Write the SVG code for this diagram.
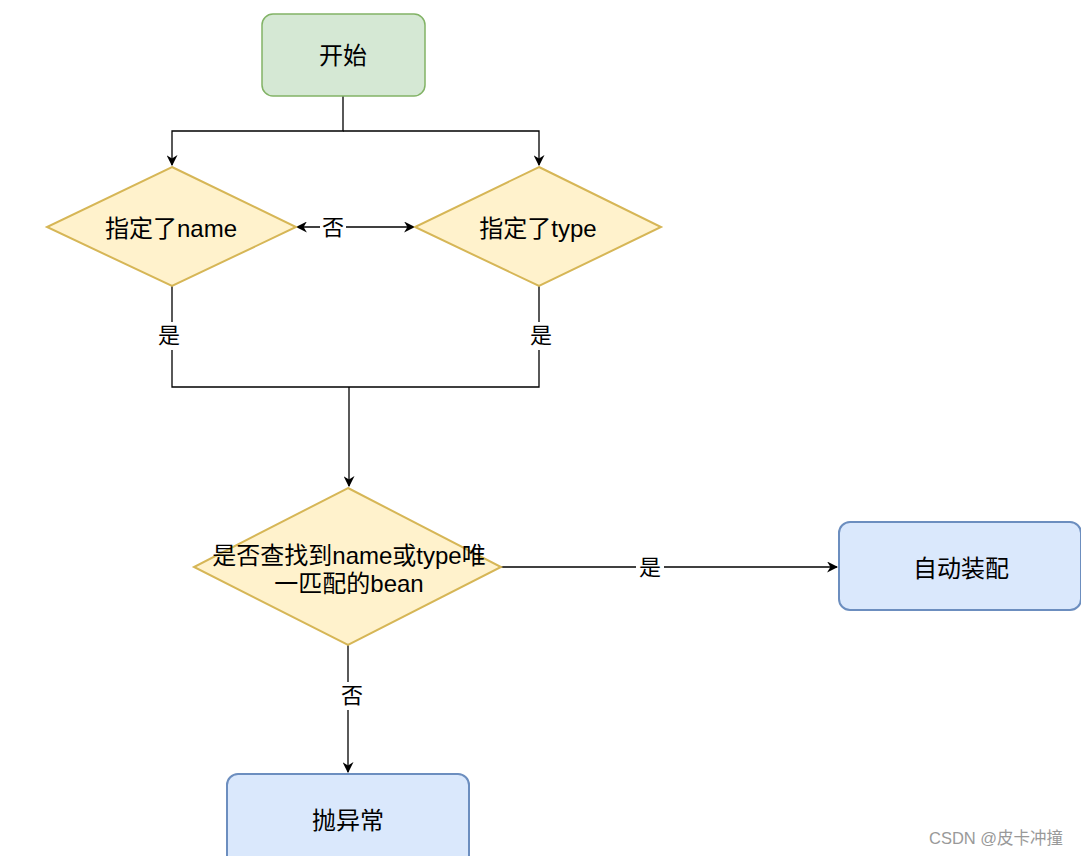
<svg xmlns="http://www.w3.org/2000/svg" width="1081" height="856" viewBox="0 0 1081 856">
<defs>
<marker id="arr" viewBox="0 0 10 10" refX="9" refY="5" markerWidth="11" markerHeight="11" markerUnits="userSpaceOnUse" orient="auto-start-reverse">
<path d="M0,0 L10,5 L0,10 L3,5 Z" fill="#000"/>
</marker>
<style>
.t{font-family:"Liberation Sans","Noto Sans CJK SC",sans-serif;font-size:24px;fill:#000;text-anchor:middle;dominant-baseline:central}
.l{font-family:"Liberation Sans","Noto Sans CJK SC",sans-serif;font-size:22px;fill:#000;text-anchor:middle;dominant-baseline:central}
.e{fill:none;stroke:#000;stroke-width:1.3}
.g{fill:#d5e8d4;stroke:#82b366;stroke-width:1.5}
.y{fill:#fff2cc;stroke:#d6b656;stroke-width:2}
.b{fill:#dae8fc;stroke:#6c8ebf;stroke-width:2}
.lb{fill:#fff}
</style>
</defs>
<rect width="1081" height="856" fill="#fff"/>
<g id="connectors">
<path class="e" d="M343,96 V131 H172 V165" marker-end="url(#arr)"/>
<path class="e" d="M343,131 H539 V165" marker-end="url(#arr)"/>
<path class="e" d="M297,227 H414" marker-start="url(#arr)" marker-end="url(#arr)"/>
<rect class="lb" x="320" y="214" width="26" height="26"/>
<text class="l" x="333" y="227">否</text>
<path class="e" d="M172,286 V387 H539 V286"/>
<rect class="lb" x="157" y="322" width="30" height="28"/>
<text class="l" x="169" y="335">是</text>
<rect class="lb" x="527" y="322" width="28" height="28"/>
<text class="l" x="541" y="335">是</text>
<path class="e" d="M349,387 V486" marker-end="url(#arr)"/>
<path class="e" d="M501,567 H837" marker-end="url(#arr)"/>
<rect class="lb" x="636" y="554" width="28" height="28"/>
<text class="l" x="650" y="567">是</text>
<path class="e" d="M348,645 V772" marker-end="url(#arr)"/>
<rect class="lb" x="338" y="682" width="28" height="28"/>
<text class="l" x="352" y="695">否</text>
</g>
<g id="start">
<rect class="g" x="262" y="14" width="163" height="82" rx="11"/>
<text class="t" x="343" y="55">开始</text>
</g>
<g id="name">
<polygon class="y" points="172,167 296,227 172,286 47,227"/>
<text class="t" x="171" y="228">指定了name</text>
</g>
<g id="type">
<polygon class="y" points="539,167 661,227 539,286 415,227"/>
<text class="t" x="538" y="228">指定了type</text>
</g>
<g id="check">
<polygon class="y" points="348,488 501,567 348,645 194,567"/>
<text class="t" x="349" y="555">是否查找到name或type唯</text>
<text class="t" x="349" y="583">一匹配的bean</text>
</g>
<g id="auto">
<rect class="b" x="839" y="522" width="242" height="88" rx="11"/>
<text class="t" x="961" y="568">自动装配</text>
</g>
<g id="throw">
<rect class="b" x="227" y="774" width="242" height="96" rx="11"/>
<text class="t" x="348" y="820">抛异常</text>
</g>
<text x="929" y="838" style="font-family:'Liberation Sans','Noto Sans CJK SC',sans-serif;font-size:16.5px;fill:#999;dominant-baseline:central">CSDN @皮卡冲撞</text>
</svg>
